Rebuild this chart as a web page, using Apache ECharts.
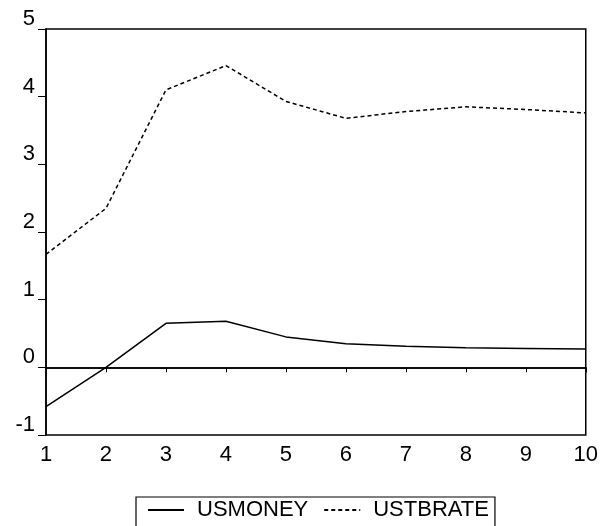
<!DOCTYPE html>
<html><head><meta charset="utf-8">
<script src="https://cdn.jsdelivr.net/npm/echarts@6/dist/echarts.min.js"></script>
<style>html,body{margin:0;padding:0;background:#fff}#c{width:601px;height:526px}</style>
</head><body><div id="c"></div>
<script>
var periods = [1, 2, 3, 4, 5, 6, 7, 8, 9, 10];
var usmoney = [-0.58, 0.0, 0.65, 0.68, 0.45, 0.35, 0.31, 0.29, 0.28, 0.27];
var ustbrate = [1.67, 2.35, 4.1, 4.46, 3.93, 3.68, 3.78, 3.85, 3.81, 3.76];
var seriesNames = ['USMONEY', 'USTBRATE'];

function pairs(vals) { return periods.map(function (p, i) { return [p, vals[i]]; }); }
var font = '"Liberation Sans", Arial, sans-serif';
var chart = echarts.init(document.getElementById('c'));
chart.setOption({
  animation: false,
  backgroundColor: '#fff',
  grid: { left: 46, right: 15, top: 29, bottom: 91, show: true, borderColor: '#000', borderWidth: 1.5, containLabel: false },
  xAxis: {
    type: 'value', min: 1, max: 10, interval: 1,
    axisLine: { show: true, lineStyle: { color: '#000', width: 1.5 } },
    axisTick: { show: true, inside: false, length: 5, lineStyle: { color: '#000' } },
    axisLabel: { color: '#000', fontFamily: font, fontSize: 22, margin: 9 },
    splitLine: { show: false }
  },
  yAxis: {
    type: 'value', min: -1, max: 5, interval: 1,
    axisLine: { show: true, lineStyle: { color: '#000', width: 1.5 } },
    axisTick: { show: true, length: 8, lineStyle: { color: '#000' } },
    axisLabel: { color: '#000', fontFamily: font, fontSize: 22, margin: 11, verticalAlign: 'bottom', lineHeight: 20 },
    splitLine: { show: false }
  },
  legend: {
    left: 136, top: 497, orient: 'horizontal',
    data: seriesNames,
    itemWidth: 36, itemHeight: 10, itemGap: 15,
    itemStyle: { opacity: 0 },
    borderColor: '#000', borderWidth: 1.2, padding: [2, 6, 10, 11],
    textStyle: { color: '#000', fontFamily: font, fontSize: 22, padding: [0, 0, 0, 8] }
  },
  series: [
    {
      name: seriesNames[0], type: 'line', data: pairs(usmoney), symbol: 'none',
      lineStyle: { color: '#000', width: 1.5, type: 'solid' },
      itemStyle: { color: '#000' },
      markLine: { silent: true, symbol: 'none', label: { show: false },
        lineStyle: { color: '#000', width: 1.5, type: 'solid' }, data: [{ yAxis: 0 }] }
    },
    {
      name: seriesNames[1], type: 'line', data: pairs(ustbrate), symbol: 'none',
      lineStyle: { color: '#000', width: 1.5, type: [4, 3] },
      itemStyle: { color: '#000' }
    }
  ]
});
</script></body></html>
